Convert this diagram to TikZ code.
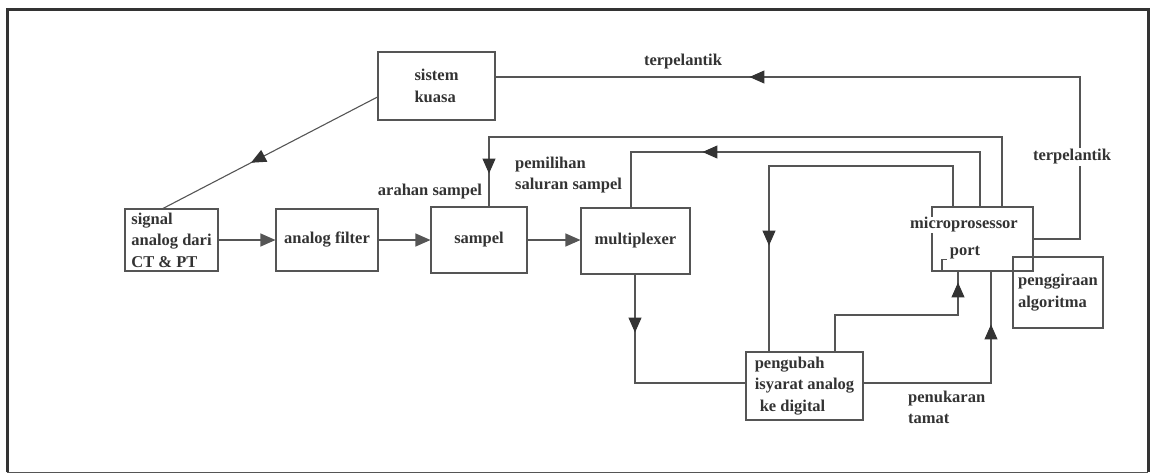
\documentclass[tikz,border=0pt]{standalone}
\usepackage{fontspec}
\setmainfont{Liberation Serif}
\usetikzlibrary{arrows.meta,decorations.markings}
\definecolor{linegray}{HTML}{555555}
\definecolor{txtgray}{HTML}{333333}
\begin{document}
\begin{tikzpicture}[x=1pt,y=-1pt,
  every node/.style={font=\bfseries\fontsize{16.5}{21.5}\selectfont, text=txtgray},
  box/.style={draw=linegray, line width=1.1pt, inner sep=0pt, align=left},
  lbl/.style={inner sep=0pt, align=left},
  conn/.style={draw=linegray, line width=1.1pt},
  tip/.style={-{Triangle[length=15pt,width=13pt]}},
  arrowat/.style={postaction={decorate,decoration={markings,
     mark=at position #1 with {\arrow{Triangle[length=15pt,width=13pt,fill=txtgray,color=txtgray]}}}}}
]
\useasboundingbox (0,0) rectangle (1154,475);
% frame
\draw[draw=txtgray, line width=3pt] (7,472) -- (7,9) -- (1148,9) -- (1148,472);
\draw[draw=linegray, line width=1pt] (7,472) -- (1148,472);

% boxes
\node[box, minimum width=93pt, minimum height=62pt] (sig) at (171.5,240) {signal\\analog dari\\CT \& PT};
\node[box, minimum width=102pt, minimum height=62pt] (af) at (327,240) {analog filter};
\node[box, minimum width=117pt, minimum height=68pt] (sk) at (436.5,86) {sistem\\kuasa};
\node[box, minimum width=96pt, minimum height=66pt] (sam) at (479,240) {sampel};
\node[box, minimum width=109pt, minimum height=66pt] (mux) at (635.5,241) {multiplexer};
\node[box, minimum width=117pt, minimum height=68pt] (pg) at (804.5,386) {pengubah\\isyarat analog\\\hspace*{5pt}ke digital};
\node[box, minimum width=101pt, minimum height=64pt] (mp) at (982.5,239) {};
\node[box, minimum width=90pt, minimum height=71pt] (alg) at (1058,292.5) {penggiraan\\algoritma};
\node[lbl, fill=white, inner sep=1pt] (mpt) at (964,225) {microprosessor};
\node[lbl] (port) at (965,253) {port};
\draw[conn] ([xshift=-40.5pt]mp.south) -- ++(0,-12) -- ++(5,0);

% bend coordinates
\coordinate (t1) at (1080,239);
\coordinate (t2) at (1080,77);
\coordinate (a1) at (1002,137);
\coordinate (a2) at (489,137);
\coordinate (p1) at (980,152);
\coordinate (p2) at (631,152);
\coordinate (d1) at (953,166);
\coordinate (d2) at (769,166);
\coordinate (m1) at (635,383);
\coordinate (u1) at (835,315);
\coordinate (u2) at (958,315);
\coordinate (e1) at (991,383);

% connectors
\draw[conn, arrowat=0.59] ([yshift=-11pt]sk.west) -- ([xshift=-8.5pt]sig.north);
\draw[conn, tip] (sig.east) -- (af.west);
\draw[conn, tip] (af.east) -- (af.east -| sam.west);
\draw[conn, tip] (sam.east) -- (sam.east -| mux.west);
\draw[conn, arrowat=539pt] (mp.east) -- (t1) -- (t2) -- (t2 -| sk.east);
\draw[conn, arrowat=619pt] (a1 |- mp.north) -- (a1) -- (a2) -- (a2 |- sam.north);
\draw[conn, arrowat=332pt] (p1 |- mp.north) -- (p1) -- (p2) -- (p2 |- mux.north);
\draw[conn, arrowat=304pt] (d1 |- mp.north) -- (d1) -- (d2) -- (d2 |- pg.north);
\draw[conn, arrowat=58pt] (mux.south -| m1) -- (m1) -- (m1 -| pg.west);
\draw[conn, arrowat=192pt] (u1 |- pg.north) -- (u1) -- (u2) -- (u2 |- mp.south);
\draw[conn, arrowat=186pt] (e1 -| pg.east) -- (e1) -- (e1 |- mp.south);

% labels
\node[lbl] (l1) at (683,62) {terpelantik};
\node[lbl, fill=white, inner sep=2pt] (l2) at (1072,157) {terpelantik};
\node[lbl] (l3) at (430,192) {arahan sampel};
\node[lbl, anchor=west] (l4) at (515,175) {pemilihan\\saluran sampel};
\node[lbl, anchor=west] (l5) at (908,407.5) {penukaran\\tamat};
\end{tikzpicture}
\end{document}
